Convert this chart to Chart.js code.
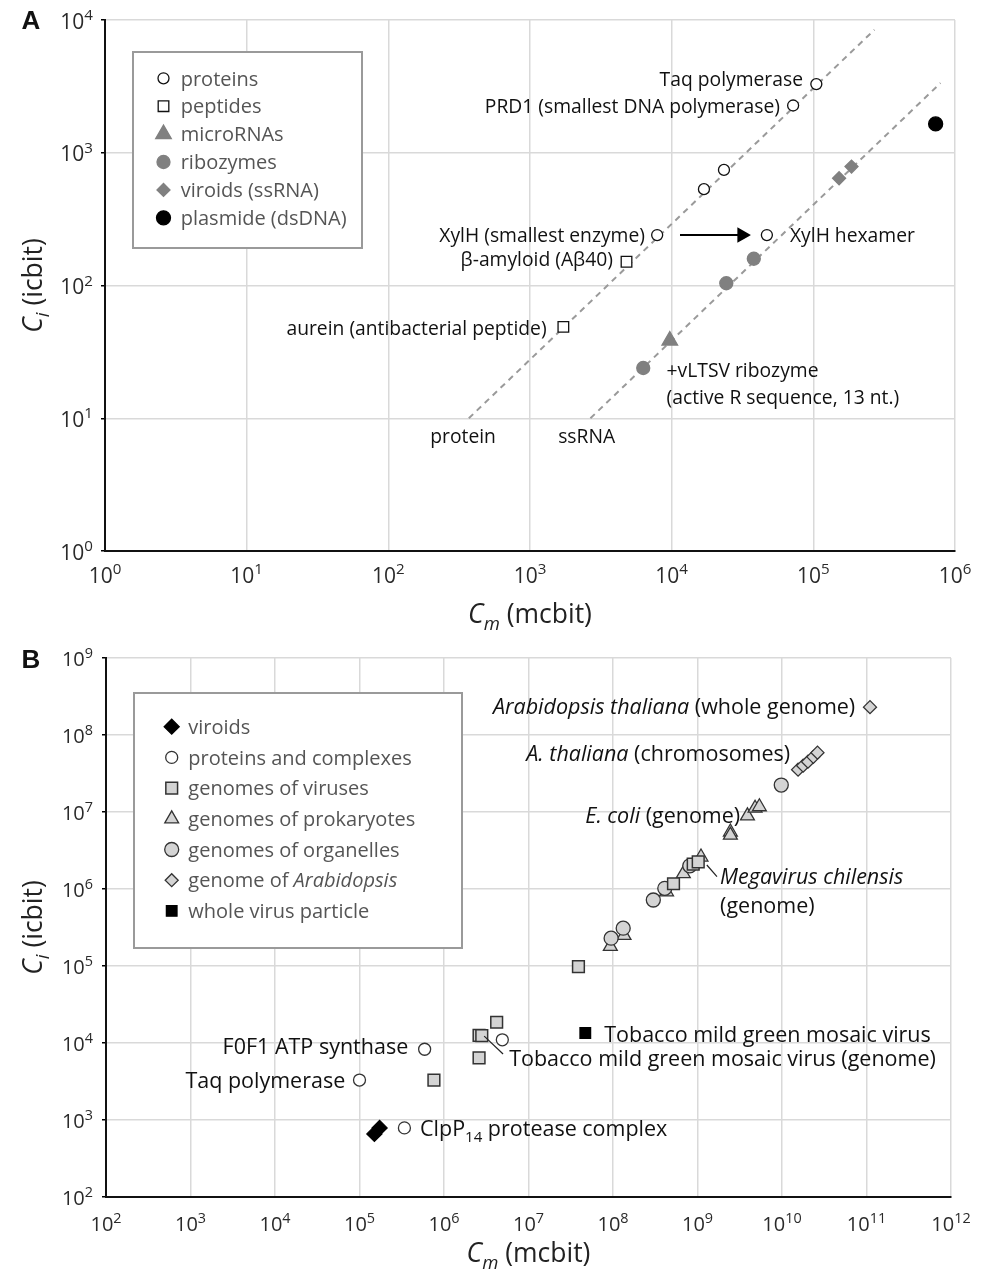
<!DOCTYPE html>
<html>
<head>
<meta charset="utf-8">
<script src="https://cdn.jsdelivr.net/npm/chart.js@4.4.1/dist/chart.umd.min.js"></script>
<style>
  body { margin: 0; background: #fff; }
  #wrap { position: relative; width: 988px; height: 1277px; }
  canvas { position: absolute; left: 0; }
</style>
</head>
<body>
<div id="wrap">
  <canvas id="chartA" width="988" height="640" style="top:0;width:988px;height:640px"></canvas>
  <canvas id="chartB" width="988" height="637" style="top:640px;width:988px;height:637px"></canvas>
</div>
<script>
// ---- panel A data (Cm in mcbit, Ci in icbit) ----
const xTicksA = [1, 10, 100, 1e3, 1e4, 1e5, 1e6];
const xTickLabelsA = ['10⁰', '10¹', '10²', '10³', '10⁴', '10⁵', '10⁶'];
const yTicksA = [1, 10, 100, 1e3, 1e4];
const yTickLabelsA = ['10⁰', '10¹', '10²', '10³', '10⁴'];

const proteinsA = [[1.05e5, 3290], [7.2e4, 2270], [2.34e4, 743], [1.69e4, 532], [7.9e3, 240], [4.7e4, 240]];
const peptidesA = [[4.8e3, 151], [1.72e3, 48.8]];
const micrornasA = [[9.7e3, 38.5]];
const ribozymesA = [[6.3e3, 23.9], [2.43e4, 104], [3.8e4, 159]];
const viroidsA = [[1.52e5, 643], [1.86e5, 787]];
const plasmidA = [[7.3e5, 1650]];
const proteinLineA = [[370, 10], [2.7e5, 8440]];
const ssrnaLineA = [[2670, 10], [7.9e5, 3350]];
const arrowA = [[1.145e4, 240], [3.13e4, 240]];

const notesA = [
  ['Taq polymerase', 8.45e4, 3590, 'right'],
  ['PRD1 (smallest DNA polymerase)', 5.82e4, 2230, 'right'],
  ['XylH (smallest enzyme)', 6.48e3, 240, 'right'],
  ['XylH hexamer', 6.84e4, 240, 'left'],
  ['β-amyloid (Aβ40)', 3.85e3, 159, 'right'],
  ['aurein (antibacterial peptide)', 1.31e3, 47.7, 'right'],
  ['+vLTSV ribozyme', 9.2e3, 23.1, 'left'],
  ['(active R sequence, 13 nt.)', 9.2e3, 14.5, 'left'],
  ['protein', 337, 7.39, 'center'],
  ['ssRNA', 2510, 7.39, 'center']
];

// ---- panel B data ----
const xTicksB = [1e2, 1e3, 1e4, 1e5, 1e6, 1e7, 1e8, 1e9, 1e10, 1e11, 1e12];
const xTickLabelsB = ['10²', '10³', '10⁴', '10⁵', '10⁶', '10⁷', '10⁸', '10⁹', '10¹⁰', '10¹¹', '10¹²'];
const yTicksB = [1e2, 1e3, 1e4, 1e5, 1e6, 1e7, 1e8, 1e9];
const yTickLabelsB = ['10²', '10³', '10⁴', '10⁵', '10⁶', '10⁷', '10⁸', '10⁹'];

const viroidsB = [[1.5e5, 660], [1.73e5, 790]];
const proteinsB = [[3.4e5, 790], [1.0e5, 3300], [5.9e5, 8300], [4.9e6, 1.1e4]];
const virusesB = [[7.6e5, 3300], [2.6e6, 1.26e4], [2.8e6, 1.25e4], [4.2e6, 1.86e4], [2.6e6, 6400],
  [3.9e7, 9.8e4], [5.2e8, 1.17e6], [8.9e8, 2.1e6], [1.02e9, 2.25e6]];
const prokaryotesB = [[9.3e7, 1.8e5], [1.35e8, 2.5e5], [4.3e8, 9.2e5], [6.8e8, 1.58e6], [1.1e9, 2.6e6],
  [2.45e9, 5.5e6], [2.45e9, 5.0e6], [3.9e9, 8.9e6], [4.8e9, 1.12e7], [5.4e9, 1.17e7]];
const organellesB = [[9.5e7, 2.3e5], [1.32e8, 3.1e5], [3.0e8, 7.2e5], [4.1e8, 1.02e6], [8.1e8, 2.0e6], [9.8e9, 2.24e7]];
const arabidopsisB = [[1.55e10, 3.55e7], [1.78e10, 4.0e7], [2.03e10, 4.5e7], [2.35e10, 5.2e7], [2.63e10, 5.9e7], [1.1e11, 2.3e8]];
const wholeVirusB = [[4.7e7, 1.35e4]];
const megaLeaderB = [[1.29e9, 2.05e6], [1.7e9, 1.45e6]];
const tobaccoLeaderB = [[2.99e6, 1.23e4], [5.0e6, 7200]];

const notesB = [
  ['*Arabidopsis thaliana* (whole genome)', 7.35e10, 2.38e8, 'right'],
  ['*A. thaliana* (chromosomes)', 1.25e10, 5.84e7, 'right'],
  ['*E. coli* (genome)', 3.2e9, 9.1e6, 'right'],
  ['*Megavirus chilensis*', 1.85e9, 1.47e6, 'left'],
  ['(genome)', 1.85e9, 6.2e5, 'left'],
  ['Tobacco mild green mosaic virus', 7.87e7, 1.31e4, 'left'],
  ['F0F1 ATP synthase', 3.77e5, 9.15e3, 'right'],
  ['Tobacco mild green mosaic virus (genome)', 5.9e6, 6.4e3, 'left'],
  ['Taq polymerase', 6.78e4, 3.3e3, 'right'],
  ['ClpP_{14} protease complex', 5.2e5, 787, 'left']
];

const FONT = '"Open Sans", "DejaVu Sans", sans-serif';
const SUP = '⁰¹²³⁴⁵⁶⁷⁸⁹';
const pts = arr => arr.map(([x, y]) => ({ x, y }));

// rich text: *italic*, _{subscript}
function parseRich(s) {
  const segs = [];
  let it = false, buf = '', i = 0;
  const flush = () => { if (buf) segs.push({ t: buf, it, sub: false }); buf = ''; };
  while (i < s.length) {
    if (s[i] === '*') { flush(); it = !it; i++; }
    else if (s.startsWith('_{', i)) {
      flush();
      const j = s.indexOf('}', i);
      segs.push({ t: s.slice(i + 2, j), it, sub: true });
      i = j + 1;
    } else { buf += s[i]; i++; }
  }
  flush();
  return segs;
}

function drawRich(ctx, s, x, y, align, size, color) {
  const segs = parseRich(s);
  const f = g => (g.it ? 'italic ' : '') + (g.sub ? size * 0.7 : size) + 'px ' + FONT;
  let w = 0;
  segs.forEach(g => { ctx.font = f(g); g.w = ctx.measureText(g.t).width; w += g.w; });
  let cx = align === 'right' ? x - w : align === 'center' ? x - w / 2 : x;
  ctx.fillStyle = color;
  ctx.textBaseline = 'alphabetic';
  ctx.textAlign = 'left';
  segs.forEach(g => {
    ctx.font = f(g);
    ctx.fillText(g.t, cx, y + size * 0.36 + (g.sub ? size * 0.28 : 0));
    cx += g.w;
  });
}

// "10⁴" -> "10" with a raised smaller "4"
function drawPower(ctx, label, x, y, align, size, color) {
  let base = '', sup = '';
  for (const ch of String(label)) {
    const k = SUP.indexOf(ch);
    if (k >= 0) sup += k; else base += ch;
  }
  const ss = size * 0.72;
  ctx.font = size + 'px ' + FONT;
  const wb = ctx.measureText(base).width;
  ctx.font = ss + 'px ' + FONT;
  const ws = ctx.measureText(sup).width;
  const w = wb + ws;
  const x0 = align === 'right' ? x - w : align === 'center' ? x - w / 2 : x;
  ctx.fillStyle = color;
  ctx.textBaseline = 'alphabetic';
  ctx.textAlign = 'left';
  ctx.font = size + 'px ' + FONT;
  ctx.fillText(base, x0, y + size * 0.36);
  ctx.font = ss + 'px ' + FONT;
  ctx.fillText(sup, x0 + wb, y + size * 0.36 - size * 0.4);
}

function marker(ctx, ds, x, y) {
  ctx.save();
  ctx.fillStyle = ds.backgroundColor;
  ctx.strokeStyle = ds.borderColor;
  ctx.lineWidth = ds.borderWidth;
  ctx.setLineDash([]);
  Chart.helpers.drawPoint(ctx, {
    pointStyle: ds.pointStyle, rotation: ds.rotation || 0,
    radius: ds.pointRadius, borderWidth: ds.borderWidth
  }, x, y);
  ctx.restore();
}

const decor = {
  id: 'decor',
  afterDatasetsDraw(chart, args, o) {
    const ctx = chart.ctx;
    const xs = chart.scales.x, ys = chart.scales.y;
    const ca = chart.chartArea;
    ctx.save();
    // tick labels from the scales' own ticks
    xs.ticks.forEach(t => drawPower(ctx, t.label, xs.getPixelForValue(t.value), ca.bottom + o.xLabelDy, 'center', o.tickSize, '#2a2a2a'));
    ys.ticks.forEach(t => drawPower(ctx, t.label, ca.left - o.yLabelDx, ys.getPixelForValue(t.value) + 1, 'right', o.tickSize, '#2a2a2a'));
    // annotations
    o.notes.forEach(([t, x, y, al]) => {
      drawRich(ctx, t, xs.getPixelForValue(x), ys.getPixelForValue(y), al, o.noteSize, '#111');
    });
    // legend box
    const [l, t, r, b] = o.box;
    ctx.fillStyle = '#fff';
    ctx.fillRect(l, t, r - l, b - t);
    ctx.strokeStyle = '#9a9a9a';
    ctx.lineWidth = 2;
    ctx.strokeRect(l, t, r - l, b - t);
    let row = o.row0;
    chart.data.datasets.forEach(ds => {
      if (!ds.inLegend) return;
      marker(ctx, ds, o.markX, row);
      drawRich(ctx, ds.label, o.textX, row, 'left', o.legendSize, '#555');
      row += o.rowStep;
    });
    // panel letter
    ctx.font = 'bold 26px "Liberation Sans", Arial, sans-serif';
    ctx.fillStyle = '#111';
    ctx.textBaseline = 'middle';
    ctx.textAlign = 'center';
    ctx.fillText(o.letter, o.letterPos[0], o.letterPos[1]);
    // axis titles
    drawRich(ctx, '*C_{m}* (mcbit)', (ca.left + ca.right) / 2, o.xTitleY, 'center', o.titleSize, '#222');
    ctx.translate(o.yTitleX, (ca.top + ca.bottom) / 2);
    ctx.rotate(-Math.PI / 2);
    drawRich(ctx, '*C_{i}* (icbit)', 0, 0, 'center', o.titleSize, '#222');
    ctx.restore();
  }
};

function logAxis(ticks, labels, o) {
  return {
    type: 'logarithmic',
    min: ticks[0],
    max: ticks[ticks.length - 1],
    afterBuildTicks: s => { s.ticks = ticks.map(v => ({ value: v, major: true })); },
    afterFit: s => { if (o.width) s.width = o.width; if (o.height) s.height = o.height; },
    ticks: {
      display: false, autoSkip: false, maxRotation: 0, minRotation: 0,
      callback: (v, i) => labels[i]
    },
    grid: { color: '#d9d9d9', lineWidth: 1.5, drawTicks: o.tick > 0, tickLength: o.tick, tickColor: '#000' },
    border: { color: '#111', width: 2 }
  };
}

function series(label, data, style, radius, fill, stroke, extra) {
  return Object.assign({
    label, data: pts(data), pointStyle: style, pointRadius: radius,
    backgroundColor: fill, borderColor: stroke, borderWidth: 1.3,
    pointBackgroundColor: fill, pointBorderColor: stroke, pointBorderWidth: 1.3,
    showLine: false, inLegend: true, order: 1
  }, extra || {});
}

function dashed(data) {
  return {
    label: '', data: pts(data), showLine: true, pointRadius: 0,
    borderColor: '#9a9a9a', borderWidth: 2, borderDash: [6, 5], order: 10
  };
}

function leader(data) {
  return {
    label: '', data: pts(data), showLine: true, pointRadius: 0,
    borderColor: '#222', borderWidth: 1.2, order: 0
  };
}

const common = {
  responsive: false, animation: false, devicePixelRatio: 1, events: [],
  plugins: { legend: { display: false }, tooltip: { enabled: false } }
};

const GREY = '#808080';
new Chart(document.getElementById('chartA'), {
  type: 'scatter',
  data: {
    datasets: [
      series('proteins', proteinsA, 'circle', 5.5, '#fff', '#111'),
      series('peptides', peptidesA, 'rect', 7.5, '#fff', '#111'),
      series('microRNAs', micrornasA, 'triangle', 9, GREY, GREY),
      series('ribozymes', ribozymesA, 'circle', 6.5, GREY, GREY),
      series('viroids (ssRNA)', viroidsA, 'rectRot', 6.5, GREY, GREY),
      series('plasmide (dsDNA)', plasmidA, 'circle', 7, '#000', '#000'),
      {
        label: '', data: pts(arrowA), showLine: true, borderColor: '#000', borderWidth: 2,
        pointRadius: [0, 7], pointStyle: 'triangle', rotation: 90,
        pointBackgroundColor: '#000', pointBorderColor: '#000', order: 2
      },
      dashed(proteinLineA),
      dashed(ssrnaLineA)
    ]
  },
  options: Object.assign({}, common, {
    layout: { padding: { left: 0, top: 20, right: 33, bottom: 0 } },
    scales: {
      x: logAxis(xTicksA, xTickLabelsA, { height: 89, tick: 0 }),
      y: logAxis(yTicksA, yTickLabelsA, { width: 105, tick: 4 })
    },
    plugins: Object.assign({}, common.plugins, {
      decor: {
        tickSize: 21, xLabelDy: 24, yLabelDx: 12,
        notes: notesA, noteSize: 19.3,
        box: [133, 52, 362, 248], markX: 163.5, textX: 180.7, row0: 78.3, rowStep: 27.9, legendSize: 20,
        letter: 'A', letterPos: [31, 22], xTitleY: 613, yTitleX: 32, titleSize: 26.5
      }
    })
  }),
  plugins: [decor]
});

const LIGHT = '#d4d4d4', EDGE = '#333';
new Chart(document.getElementById('chartB'), {
  type: 'scatter',
  data: {
    datasets: [
      series('viroids', viroidsB, 'rectRot', 7.5, '#000', '#000'),
      series('proteins and complexes', proteinsB, 'circle', 6, '#fff', EDGE),
      series('genomes of viruses', virusesB, 'rect', 8.3, LIGHT, EDGE, { borderWidth: 1.5, pointBorderWidth: 1.5 }),
      series('genomes of prokaryotes', prokaryotesB, 'triangle', 8, LIGHT, EDGE, { order: 3 }),
      series('genomes of organelles', organellesB, 'circle', 7, LIGHT, EDGE, { order: 2 }),
      series('genome of *Arabidopsis*', arabidopsisB, 'rectRot', 6.5, LIGHT, EDGE),
      series('whole virus particle', wholeVirusB, 'rect', 7.5, '#000', '#000'),
      leader(megaLeaderB),
      leader(tobaccoLeaderB)
    ]
  },
  options: Object.assign({}, common, {
    layout: { padding: { left: 0, top: 18, right: 37, bottom: 0 } },
    scales: {
      x: logAxis(xTicksB, xTickLabelsB, { height: 80, tick: 0 }),
      y: logAxis(yTicksB, yTickLabelsB, { width: 106, tick: 4 })
    },
    plugins: Object.assign({}, common.plugins, {
      decor: {
        tickSize: 20, xLabelDy: 27, yLabelDx: 13,
        notes: notesB, noteSize: 21.5,
        box: [134, 53, 462, 308], markX: 171.7, textX: 188.3, row0: 86.7, rowStep: 30.7, legendSize: 20,
        letter: 'B', letterPos: [31, 21], xTitleY: 612, yTitleX: 32, titleSize: 26.5
      }
    })
  }),
  plugins: [decor]
});
</script>
</body>
</html>
